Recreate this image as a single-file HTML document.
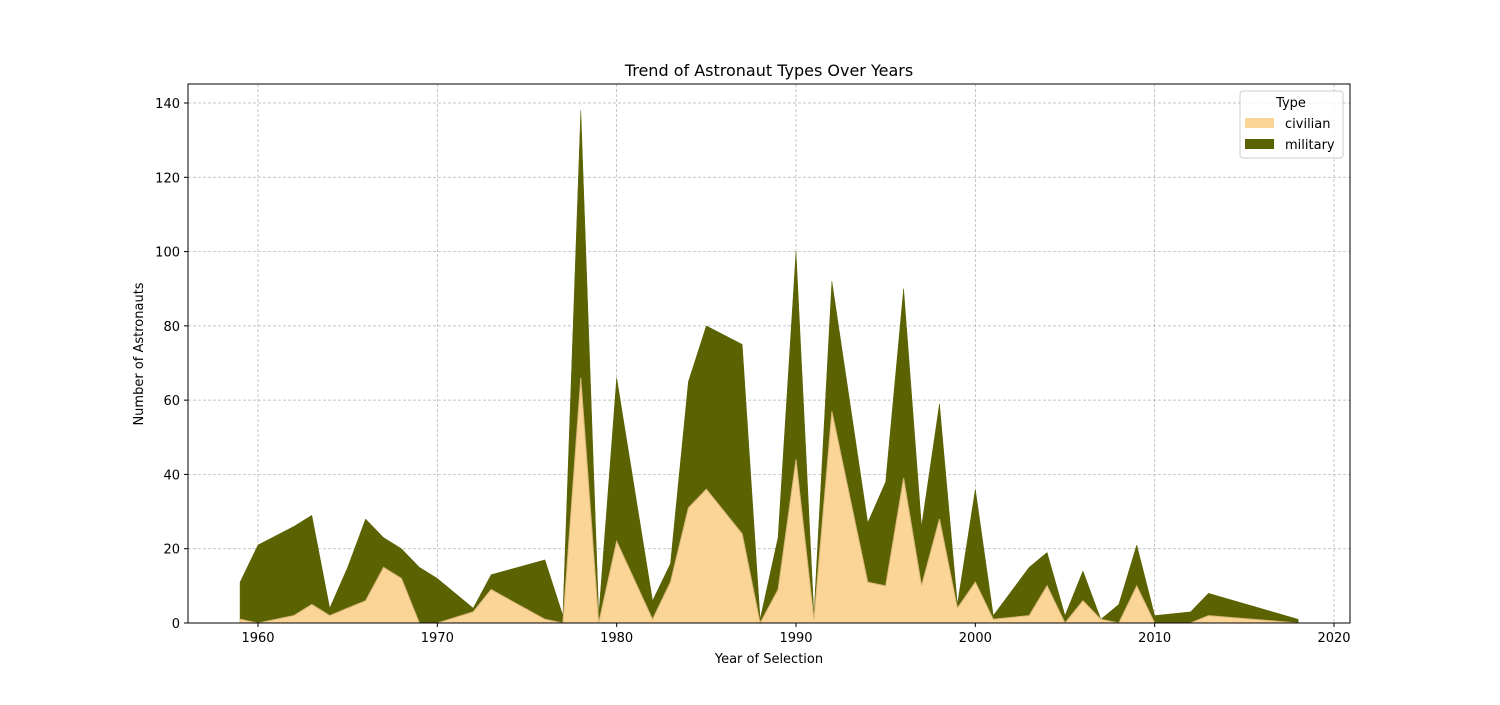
<!DOCTYPE html>
<html><head><meta charset="utf-8"><style>
body{margin:0;background:#fff;font-family:"Liberation Sans","DejaVu Sans",sans-serif;}
</style></head><body>
<svg id="chart" width="1500" height="700" xmlns="http://www.w3.org/2000/svg" font-family="DejaVu Sans, Liberation Sans, sans-serif">
<rect width="1500" height="700" fill="#fff"/>
<g id="grid"></g>
<g id="areas"></g>
<rect x="188" y="84" width="1162" height="539" fill="none" stroke="#000" stroke-width="1"/>
<g id="ticks" font-size="13"></g>
<text x="769" y="76" text-anchor="middle" font-size="16">Trend of Astronaut Types Over Years</text>
<text x="769" y="663" text-anchor="middle" font-size="13">Year of Selection</text>
<text transform="translate(143,354) rotate(-90)" text-anchor="middle" font-size="13">Number of Astronauts</text>
<g>
<rect x="1240" y="91" width="103" height="67" rx="3" fill="#fff" fill-opacity="0.8" stroke="#ccc"/>
<text x="1291" y="107" text-anchor="middle" font-size="13">Type</text>
<rect x="1245" y="118" width="29" height="10" fill="#fbd595"/>
<text x="1285" y="128" font-size="13">civilian</text>
<rect x="1245" y="139" width="29" height="10" fill="#5a6202"/>
<text x="1285" y="149" font-size="13">military</text>
</g>
</svg>
<script>
const years=[1959,1960,1962,1963,1964,1965,1966,1967,1968,1969,1970,1972,1973,1976,1977,1978,1979,1980,1982,1983,1984,1985,1987,1988,1989,1990,1991,1992,1994,1995,1996,1997,1998,1999,2000,2001,2003,2004,2005,2006,2007,2008,2009,2010,2012,2013,2018];
const civilian=[1,0,2,5,2,4,6,15,12,0,0,3,9,1,0,66,0,22,1,11,31,36,24,0,9,44,1,57,11,10,39,10,28,4,11,1,2,10,0,6,1,0,10,0,0,2,0];
const totals=[11,21,26,29,4,15,28,23,20,15,12,4,13,17,2,138,2,66,6,16,65,80,75,1,23,100,2,92,27,38,90,26,59,5,36,2,15,19,2,14,1,5,21,2,3,8,1];
const military=totals.map((t,i)=>t-civilian[i]);
const xTicks=[1960,1970,1980,1990,2000,2010,2020];
const yTicks=[0,20,40,60,80,100,120,140];
const NS="http://www.w3.org/2000/svg";
const X=v=>258+(v-1960)*(1334-258)/60;
const Y=v=>623-v*(623-103)/140;
function mk(tag,attrs,parent){const e=document.createElementNS(NS,tag);for(const k in attrs)e.setAttribute(k,attrs[k]);parent.appendChild(e);return e;}
const grid=document.getElementById('grid'),ticks=document.getElementById('ticks'),areas=document.getElementById('areas');
xTicks.forEach(t=>{
 const l=mk('line',{x1:X(t),x2:X(t),y1:84,y2:623,stroke:'#b0b0b0','stroke-width':0.7,'stroke-dasharray':'3,2'},grid);
 
 
 const k=mk('line',{x1:X(t),x2:X(t),y1:623,y2:627,stroke:'#000'},ticks);
 
 
 const tx=mk('text',{x:X(t),y:642,'text-anchor':'middle'},ticks);tx.textContent=t;
 
 
});
yTicks.forEach(t=>{
 const l=mk('line',{x1:188,x2:1350,y1:Y(t),y2:Y(t),stroke:'#b0b0b0','stroke-width':0.7,'stroke-dasharray':'3,2'},grid);
 
 
 const k=mk('line',{x1:184,x2:188,y1:Y(t),y2:Y(t),stroke:'#000'},ticks);
 
 
 const tx=mk('text',{x:180,y:Y(t)+5,'text-anchor':'end'},ticks);tx.textContent=t;
 
 
});
const civTop=years.map((y,i)=>[X(y),Y(civilian[i])]);
const totTop=years.map((y,i)=>[X(y),Y(civilian[i]+military[i])]);
const base=years.map(y=>[X(y),Y(0)]).reverse();
const pts=a=>a.map(p=>p.join(',')).join(' ');
const mil=mk('polygon',{points:pts(totTop.concat(civTop.slice().reverse())),fill:'#5a6202',stroke:'#5a6202','stroke-width':0.5},areas);


const civ=mk('polygon',{points:pts(civTop.concat(base)),fill:'#fbd595',stroke:'#d9b77a','stroke-width':1},areas);


</script>
</body></html>
